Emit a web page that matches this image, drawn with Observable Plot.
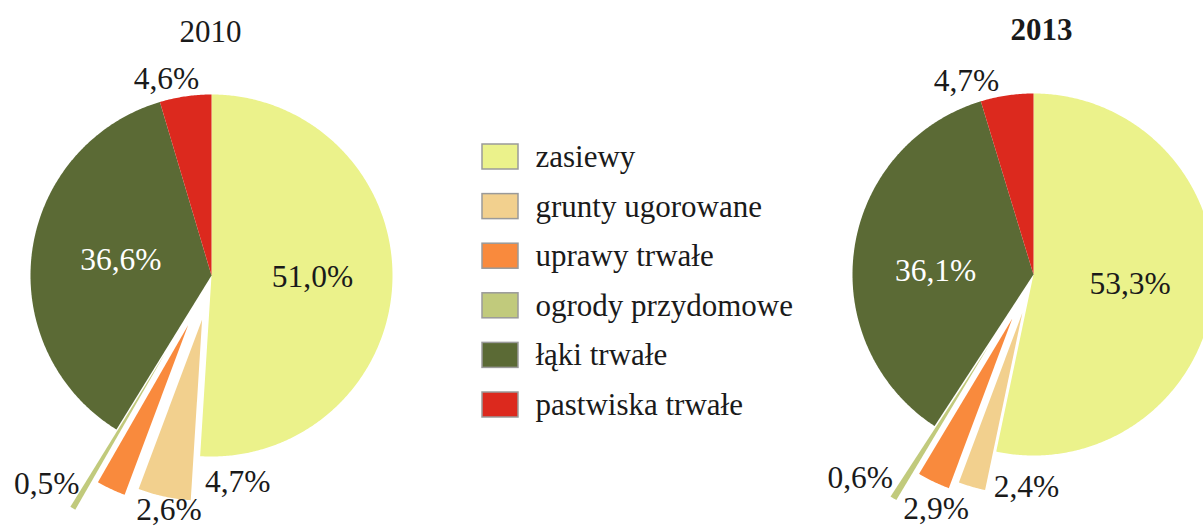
<!DOCTYPE html>
<html>
<head>
<meta charset="utf-8">
<script src="https://cdn.jsdelivr.net/npm/d3@7"></script>
<script src="https://cdn.jsdelivr.net/npm/@observablehq/plot@0.6"></script>
<style>
  html, body { margin: 0; padding: 0; background: #fff; overflow: hidden; }
  #chart svg { display: block; max-width: none; }
  #chart svg text { font-family: "Liberation Serif", "Times New Roman", serif !important; }
</style>
</head>
<body>
<div id="chart"></div>
<script>
// ---- data ----
const categories = ["zasiewy", "grunty ugorowane", "uprawy trwałe", "ogrody przydomowe", "łąki trwałe", "pastwiska trwałe"];
const years = ["2010", "2013"];
const values2010 = [51.0, 4.7, 2.6, 0.5, 36.6, 4.6];
const values2013 = [53.3, 2.4, 2.9, 0.6, 36.1, 4.7];

// ---- styling / layout ----
const colors = ["#ebf28b", "#f2d08e", "#f98a3d", "#c1ca7c", "#5b6a35", "#dc291e"];
const labelColors = ["#1a1a1a", "#1a1a1a", "#1a1a1a", "#1a1a1a", "#ffffff", "#1a1a1a"];
const W = 1203, H = 526;
const FONT = "Liberation Serif";
const pieLayout = [
  {cx: 211, cy: 275, r: 181, explode: [0, 45, 55, 90, 0, 0],
   labelR: [101, 208, 238, 266, 92, 202], labelShift: [-1.2, -19.3, -14.9, 7.5, 2.2, -4.6],
   titleX: 210, titleY: 32, bold: false},
  {cx: 1033, cy: 274, r: 181, explode: [0, 40, 49, 83, 0, 0],
   labelR: [97, 213, 254, 267, 98, 205], labelShift: [-0.6, -14.3, -3.2, 8.4, -5.8, -10.6],
   titleX: 1041, titleY: 30, bold: true}
];
const legendLayout = {x: 482, w: 36, h: 25, y0: 156.5, step: 49.6, textX: 535};

const seriesByYear = [values2010, values2013];
const fmt = v => d3.format(".1f")(v).replace(".", ",") + "%";
const rad = d => d * Math.PI / 180;

const slicePoints = [];
const labels = [];
const titles = [];
seriesByYear.forEach((vals, p) => {
  const L = pieLayout[p];
  let a = 0;
  vals.forEach((v, i) => {
    const a0 = a, a1 = a + v / 100 * 360;
    a = a1;
    const m = (a0 + a1) / 2;
    const e = L.explode[i];
    const ox = L.cx + e * Math.sin(rad(m)), oy = L.cy - e * Math.cos(rad(m));
    const id = years[p] + "-" + i;
    slicePoints.push({id, cat: categories[i], x: ox, y: oy});
    const n = Math.max(2, Math.ceil((a1 - a0) / 0.5));
    for (let k = 0; k <= n; k++) {
      const t = a0 + (a1 - a0) * k / n;
      slicePoints.push({id, cat: categories[i], x: ox + L.r * Math.sin(rad(t)), y: oy - L.r * Math.cos(rad(t))});
    }
    const la = m + L.labelShift[i], lr = L.labelR[i];
    labels.push({text: fmt(v), x: L.cx + lr * Math.sin(rad(la)), y: L.cy - lr * Math.cos(rad(la)), color: labelColors[i]});
  });
  titles.push({text: years[p], x: L.titleX, y: L.titleY, bold: L.bold});
});

const legend = categories.map((c, i) => ({
  cat: c,
  x1: legendLayout.x, x2: legendLayout.x + legendLayout.w,
  y1: legendLayout.y0 + i * legendLayout.step - legendLayout.h / 2,
  y2: legendLayout.y0 + i * legendLayout.step + legendLayout.h / 2,
  ty: legendLayout.y0 + i * legendLayout.step
}));

const chart = Plot.plot({
  width: W, height: H, margin: 0,
  style: {fontFamily: FONT, background: "#fff", overflow: "visible"},
  x: {domain: [0, W], range: [0, W], axis: null},
  y: {domain: [0, H], range: [0, H], axis: null},
  color: {domain: categories, range: colors},
  marks: [
    Plot.line(slicePoints, {x: "x", y: "y", z: "id", fill: "cat", stroke: "none", curve: "linear"}),
    Plot.text(labels, {x: "x", y: "y", text: "text", fill: d => d.color, fontSize: 31.5, fontFamily: FONT}),
    Plot.text(titles.filter(d => !d.bold), {x: "x", y: "y", text: "text", fill: "#1a1a1a", fontSize: 31, fontFamily: FONT}),
    Plot.text(titles.filter(d => d.bold), {x: "x", y: "y", text: "text", fill: "#1a1a1a", fontSize: 31, fontWeight: "bold", fontFamily: FONT}),
    Plot.rect(legend, {x1: "x1", x2: "x2", y1: "y1", y2: "y2", fill: "cat", stroke: "#9a9a9a", strokeWidth: 1.5}),
    Plot.text(legend, {x: legendLayout.textX, y: "ty", text: "cat", textAnchor: "start", fill: "#1a1a1a", fontSize: 31, fontFamily: FONT})
  ]
});
document.getElementById("chart").appendChild(chart);
</script>
</body>
</html>
